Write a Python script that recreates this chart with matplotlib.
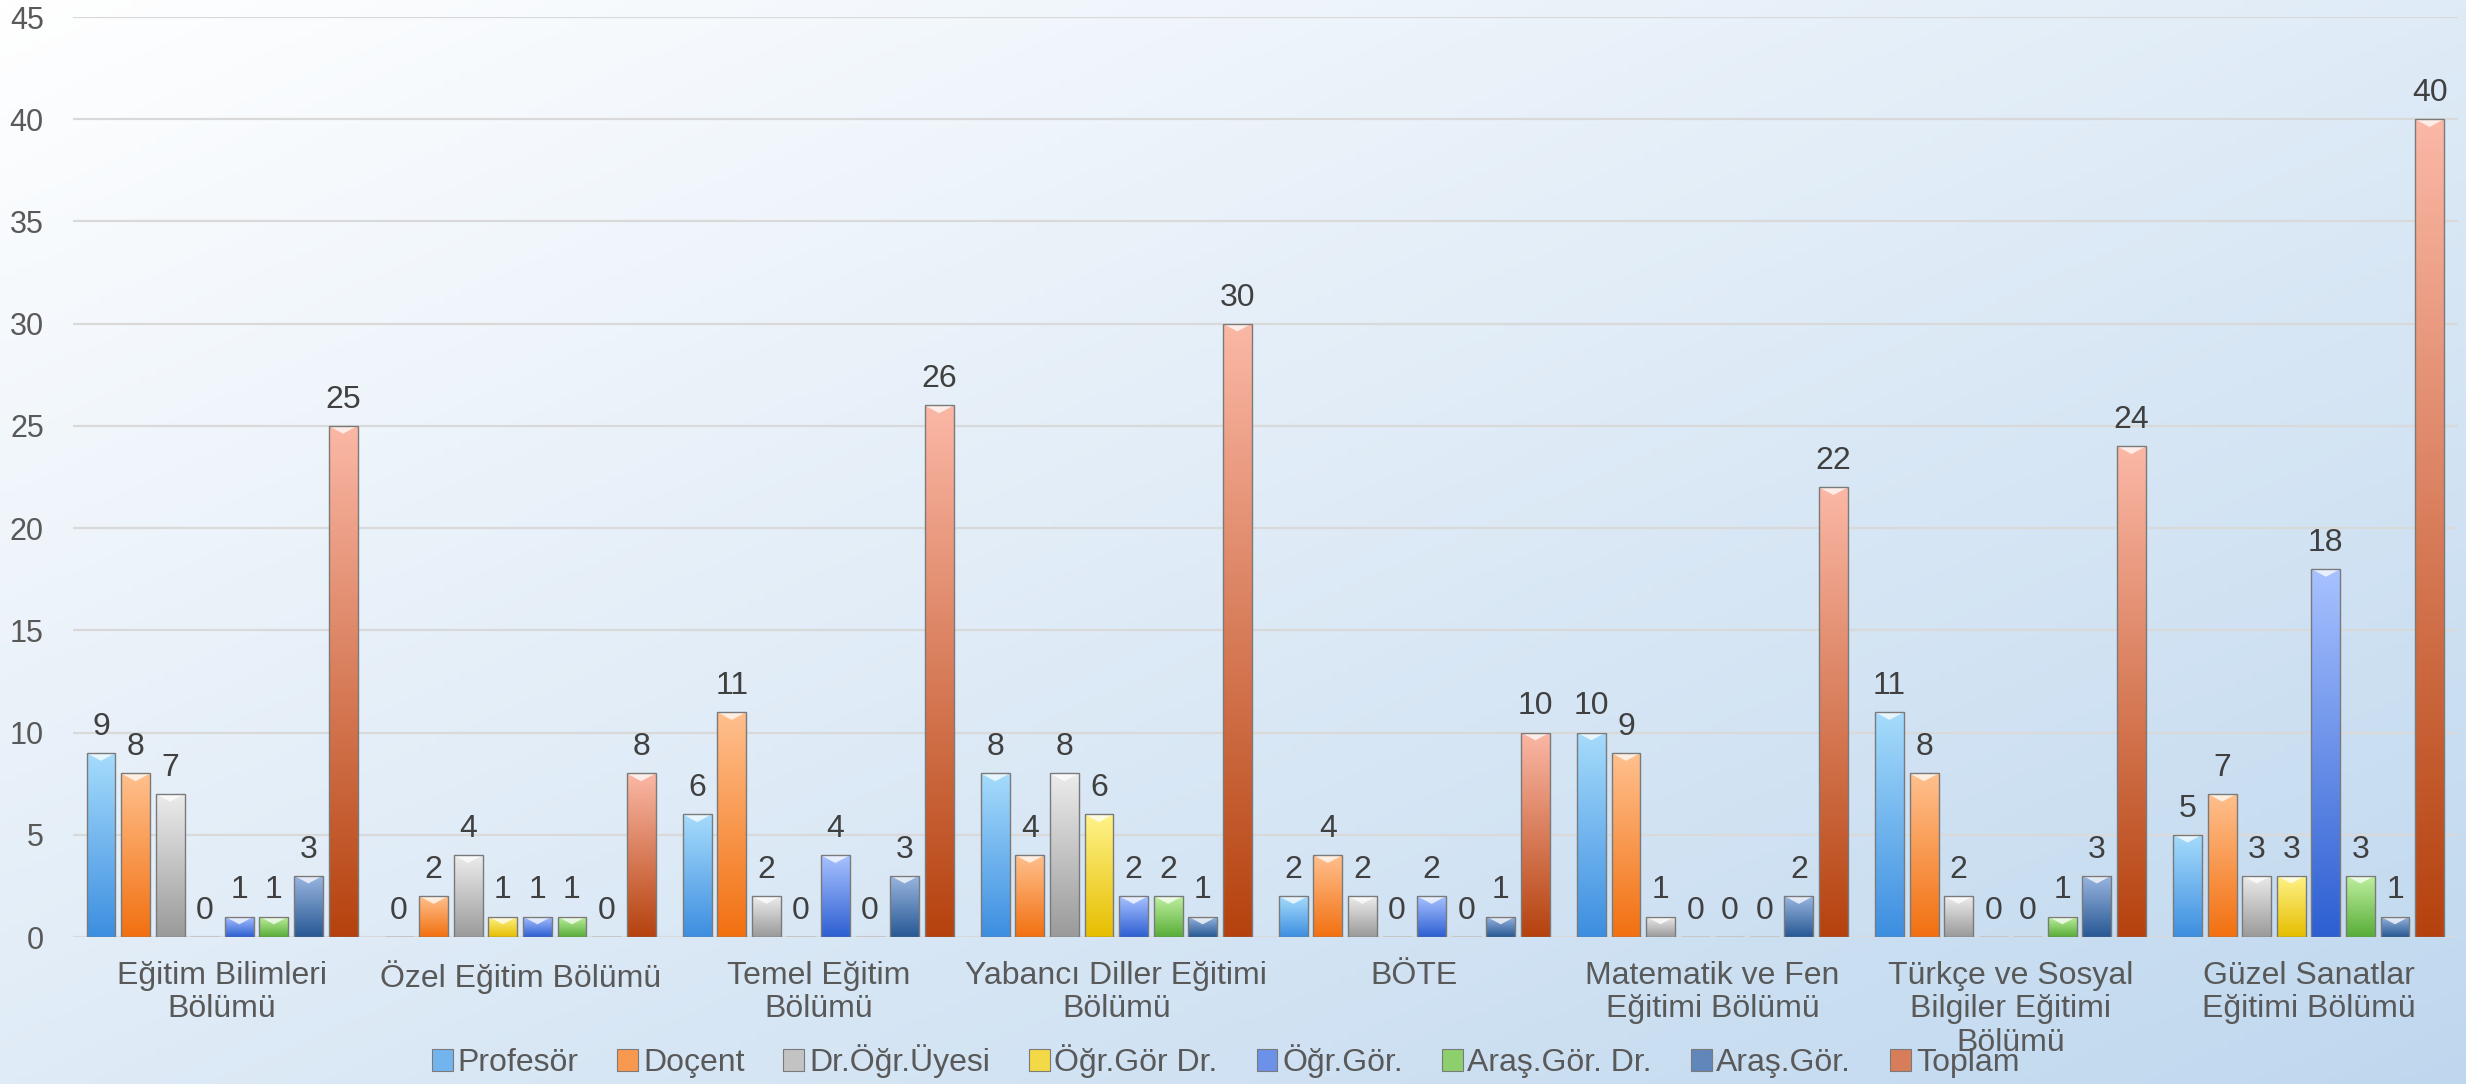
import numpy as np
import matplotlib.pyplot as plt
from matplotlib.patches import Patch, Polygon
from matplotlib.colors import LinearSegmentedColormap

plt.rcParams['font.family'] = ['Liberation Sans', 'DejaVu Sans']

# data
categories = ['Eğitim Bilimleri\nBölümü', 'Özel Eğitim Bölümü', 'Temel Eğitim\nBölümü',
              'Yabancı Diller Eğitimi\nBölümü', 'BÖTE', 'Matematik ve Fen\nEğitimi Bölümü',
              'Türkçe ve Sosyal\nBilgiler Eğitimi\nBölümü', 'Güzel Sanatlar\nEğitimi Bölümü']
series = ['Profesör', 'Doçent', 'Dr.Öğr.Üyesi', 'Öğr.Gör Dr.', 'Öğr.Gör.',
          'Araş.Gör. Dr.', 'Araş.Gör.', 'Toplam']
profesor = [9, 0, 6, 8, 2, 10, 11, 5]
docent = [8, 2, 11, 4, 4, 9, 8, 7]
dr_ogr_uyesi = [7, 4, 2, 8, 2, 1, 2, 3]
ogr_gor_dr = [0, 1, 0, 6, 0, 0, 0, 3]
ogr_gor = [1, 1, 4, 2, 2, 0, 0, 18]
aras_gor_dr = [1, 1, 0, 2, 0, 0, 1, 3]
aras_gor = [3, 0, 3, 1, 1, 2, 3, 1]
toplam = [25, 8, 26, 30, 10, 22, 24, 40]
values = [profesor, docent, dr_ogr_uyesi, ogr_gor_dr, ogr_gor, aras_gor_dr, aras_gor, toplam]

# (top colour, bottom colour) for each series
colors = [('#a6dcfc', '#3d8ee0'), ('#ffc08e', '#f27010'), ('#ececec', '#9a9a9a'),
          ('#fff38a', '#e6be00'), ('#a8c2ff', '#2d5fd2'), ('#bff0a0', '#58ad38'),
          ('#9ab6e0', '#275894'), ('#fbb8a6', '#b5420e')]

fig = plt.figure(figsize=(24.66, 10.84), dpi=100)

# background gradient: white top-left to pale blue bottom-right
bg = fig.add_axes([0, 0, 1, 1], zorder=-10)
gx, gy = np.meshgrid(np.linspace(0, 1, 300), np.linspace(0, 1, 150))
t = (gx + gy) / 2
c0 = np.array([1.0, 1.0, 1.0])
c1 = np.array([0.75, 0.845, 0.935])
img = c0[None, None, :] * (1 - t[..., None]) + c1[None, None, :] * t[..., None]
bg.imshow(img, extent=[0, 1, 0, 1], aspect='auto', origin='upper')
bg.axis('off')

ax = fig.add_axes([0.0296, 0.1356, 0.967, 0.8487])
ax.patch.set_alpha(0)

x = np.arange(len(categories))
pitch = 0.116
width = 0.097
ymax = 45
chev = 0.38

grad = np.linspace(1, 0, 256).reshape(-1, 1)
handles = []
for i, (name, vals, (ctop, cbot)) in enumerate(zip(series, values, colors)):
    cmap = LinearSegmentedColormap.from_list(name, [cbot, ctop])
    pos = x + (i - 3.5) * pitch
    bars = ax.bar(pos, vals, width, facecolor='none', edgecolor='#7a7a7a',
                  linewidth=1.0, zorder=3)
    for b, v in zip(bars, vals):
        x0 = b.get_x()
        x1 = x0 + b.get_width()
        if v > 0:
            im = ax.imshow(grad, extent=[x0, x1, 0, v], aspect='auto', cmap=cmap,
                           vmin=0, vmax=1, zorder=2)
            im.set_clip_path(b)
            tri = Polygon([[x0, v], [x1, v], [(x0 + x1) / 2, v - min(chev, v * 0.4)]],
                          closed=True, facecolor='white', alpha=0.75,
                          edgecolor='none', zorder=2.5)
            ax.add_patch(tri)
        ax.annotate(str(v), (b.get_x() + b.get_width() / 2, v), xytext=(0, 8),
                    textcoords='offset points', ha='center', va='bottom',
                    fontsize=23, color='#404040', zorder=4)
    handles.append(Patch(facecolor=cmap(0.5), edgecolor='#7a7a7a', linewidth=0.8))

ax.set_xlim(-0.5, len(categories) - 0.5)
ax.set_ylim(0, ymax)
ax.set_yticks(np.arange(0, ymax + 1, 5))
ax.set_xticks(x)
ax.set_xticklabels(categories)
ax.tick_params(axis='y', length=0, pad=21, labelsize=22, labelcolor='#595959')
ax.tick_params(axis='x', length=0, pad=17, labelsize=23, labelcolor='#595959')
for lab in ax.get_xticklabels():
    lab.set_linespacing(1.15)
ax.grid(axis='y', color='#d9d9d9', linewidth=1.6, zorder=0)
ax.set_axisbelow(True)
for s in ax.spines.values():
    s.set_visible(False)

fig.legend(handles, series, loc='center', bbox_to_anchor=(0.497, 0.021), ncol=8,
           frameon=False, fontsize=23, labelcolor='#595959', handlelength=0.65,
           handleheight=0.65, handletextpad=0.15, columnspacing=1.22)

fig.savefig('out.png', dpi=100)
